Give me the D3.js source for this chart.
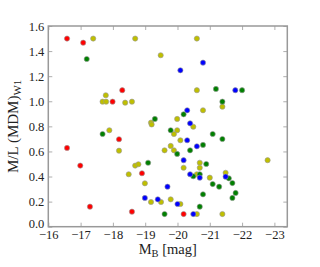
<!DOCTYPE html>
<html>
<head>
<meta charset="utf-8">
<script src="https://cdn.jsdelivr.net/npm/d3@7"></script>
<style>
  body { margin: 0; background: #fff; }
  text { font-family: "Liberation Serif", "DejaVu Serif", serif; }
</style>
</head>
<body>
<div id="chart"></div>
<script>
// M_B (x) and M/L (y) per colour group
const redMB = [-16.58, -17.08, -18.29, -17.99, -18.19, -16.58, -16.99, -17.29, -18.90, -18.59, -20.19];
const redML = [1.50, 1.467, 1.088, 0.997, 0.697, 0.628, 0.487, 0.16, 0.426, 0.12, 0.101];

const yellowMB = [-17.39, -18.69, -20.60, -19.48, -20.60, -17.78, -17.68, -17.79, -18.38, -18.59, -17.89, -18.19,
    -20.79, -19.99, -19.18, -19.20, -20.49, -19.99, -19.89, -20.09, -19.79, -19.60, -19.89, -21.39, -22.79,
    -18.69, -18.79, -18.49, -18.99, -19.18, -19.49, -19.79, -20.09, -20.69, -20.19, -20.69, -20.60, -21.0,
    -21.49, -20.60, -21.39];
const yellowML = [1.50, 1.50, 1.50, 1.367, 1.088, 1.048, 0.997, 0.997, 0.989, 0.997, 0.769, 0.606,
    0.928, 0.859, 0.83, 0.815, 0.797, 0.769, 0.739, 0.689, 0.644, 0.609, 0.609, 0.957, 0.53,
    0.487, 0.498, 0.418, 0.346, 0.197, 0.197, 0.218, 0.181, 0.51, 0.47, 0.47, 0.418, 0.391,
    0.43, 0.101, 0.101];

const greenMB = [-17.19, -21.19, -22.0, -17.68, -20.19, -19.30, -19.79, -20.79, -20.39, -19.99, -19.09, -21.39, -21.09,
    -21.39, -20.89, -20.49, -20.69, -20.79, -20.69, -19.60, -21.59, -21.09, -21.29, -21.70, -21.80, -21.70];
const greenML = [1.337, 1.098, 1.088, 0.739, 0.896, 0.859, 0.769, 0.652, 0.609, 0.58, 0.51, 0.997, 0.739,
    0.699, 0.50, 0.402, 0.418, 0.258, 0.16, 0.101, 0.386, 0.34, 0.319, 0.348, 0.269, 0.229];

const blueMB = [-20.79, -20.09, -21.79, -20.30, -20.39, -20.30, -20.60, -20.19, -19.69, -18.99, -19.39, -20.0, -20.49,
    -20.39, -20.69, -21.49];
const blueML = [1.308, 1.247, 1.088, 0.928, 0.824, 0.689, 0.641, 0.53, 0.319, 0.229, 0.218, 0.181, 0.101,
    0.418, 0.391, 0.399];

const xTicks = [-16, -17, -18, -19, -20, -21, -22, -23];
const yTicks = [0.0, 0.2, 0.4, 0.6, 0.8, 1.0, 1.2, 1.4, 1.6];

const groups = [
    { mb: redMB, ml: redML, color: "#ff0000" },
    { mb: yellowMB, ml: yellowML, color: "#bfbf00" },
    { mb: greenMB, ml: greenML, color: "#008000" },
    { mb: blueMB, ml: blueML, color: "#0000ff" }
];

const width = 320, height = 267;
const margin = { left: 48.3, top: 26, right: 32.7, bottom: 40.3 };
const innerW = width - margin.left - margin.right;
const innerH = height - margin.top - margin.bottom;

const svg = d3.select("#chart").append("svg")
    .attr("width", width)
    .attr("height", height);

const g = svg.append("g").attr("transform", `translate(${margin.left},${margin.top})`);

const x = d3.scaleLinear().domain([-16, -23.4]).range([0, innerW]);
const y = d3.scaleLinear().domain([0, 1.6]).range([innerH, 0]);

const fmtX = d => "\u2212" + Math.abs(d);
const tickCol = "#999";

// axes, ticks pointing inward
const xb = g.append("g").attr("transform", `translate(0,${innerH})`)
    .call(d3.axisBottom(x).tickValues(xTicks).tickFormat(fmtX).tickSizeInner(-4).tickSizeOuter(0).tickPadding(3));
const xt = g.append("g")
    .call(d3.axisTop(x).tickValues(xTicks).tickFormat("").tickSizeInner(-4).tickSizeOuter(0));
const yl = g.append("g")
    .call(d3.axisLeft(y).tickValues(yTicks).tickFormat(d3.format(".1f")).tickSizeInner(-4).tickSizeOuter(0).tickPadding(4));
const yr = g.append("g").attr("transform", `translate(${innerW},0)`)
    .call(d3.axisRight(y).tickValues(yTicks).tickFormat("").tickSizeInner(-4).tickSizeOuter(0));

[xb, xt, yl, yr].forEach(a => {
    a.select(".domain").remove();
    a.selectAll(".tick line").attr("stroke", tickCol).attr("stroke-width", 0.8);
    a.selectAll("text").attr("fill", "#222").style("font-size", "12.5px")
        .style("font-family", '"Liberation Serif", "DejaVu Serif", serif');
});
// nudge the 0.0 label up a touch so it clears -16
yl.selectAll("text").filter(d => d === 0).attr("dy", "0.1em");

// frame
g.append("rect")
    .attr("width", innerW).attr("height", innerH)
    .attr("fill", "none")
    .attr("stroke", tickCol)
    .attr("stroke-width", 1.5);

// points
groups.forEach(grp => {
    g.append("g").selectAll("circle")
        .data(grp.mb.map((m, i) => [m, grp.ml[i]]))
        .join("circle")
        .attr("cx", d => x(d[0]))
        .attr("cy", d => y(d[1]))
        .attr("r", 2.6)
        .attr("fill", grp.color)
        .attr("stroke", "#999")
        .attr("stroke-width", 0.6);
});

// x label
const xlab = svg.append("text")
    .attr("x", margin.left + innerW / 2)
    .attr("y", 253.5)
    .attr("text-anchor", "middle")
    .style("font-size", "14.5px")
    .attr("fill", "#222");
xlab.append("tspan").text("M");
xlab.append("tspan").attr("dy", 3).style("font-size", "10.5px").text("B");
xlab.append("tspan").attr("dy", -3).text(" [mag]");

// y label
const ylab = svg.append("text")
    .attr("transform", `translate(18,${margin.top + innerH / 2}) rotate(-90)`)
    .attr("text-anchor", "middle")
    .style("font-size", "15px")
    .attr("fill", "#222");
ylab.append("tspan").text("M/L (MDM)");
ylab.append("tspan").attr("dy", 3).style("font-size", "11px").text("W1");
</script>
</body>
</html>
